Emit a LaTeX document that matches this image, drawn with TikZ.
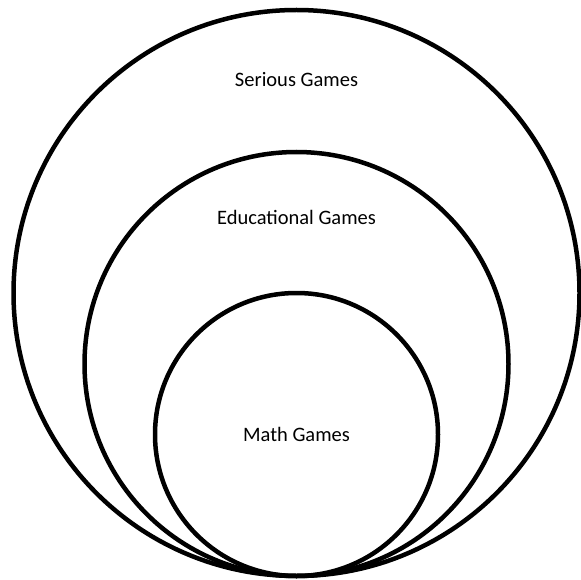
\documentclass[tikz,border=0pt]{standalone}
\usepackage{fontspec}
\setmainfont{Carlito}
\usepackage{tikz}
\usetikzlibrary{positioning}
\definecolor{vnInk}{HTML}{000000}
\tikzset{
  vn diagram/.style={x=1pt, y=-1pt, text=vnInk, font=\fontsize{20.5}{24}\selectfont},
  vn ring/.style={circle, draw=vnInk, line width=4.5pt, inner sep=0pt},
  vn label/.style={inner sep=1pt, anchor=center}
}
\begin{document}
\begin{tikzpicture}[vn diagram]
\useasboundingbox (0,0) rectangle (581,580);
% nested sets, all touching at the bottom
\node[vn ring, minimum size=566pt] (serious) at (296.5,293) {};
\node[vn ring, minimum size=424pt] (edu) at (296.5,364) {};
\node[vn ring, minimum size=283pt] (math) at (296.5,434.5) {};
\node[vn label] (seriousText) at (296.5,80) {Serious Games};
\node[vn label] (eduText) at (296.5,217) {Educational Games};
\node[vn label] (mathText) at (math) {Math Games};
\end{tikzpicture}
\end{document}
